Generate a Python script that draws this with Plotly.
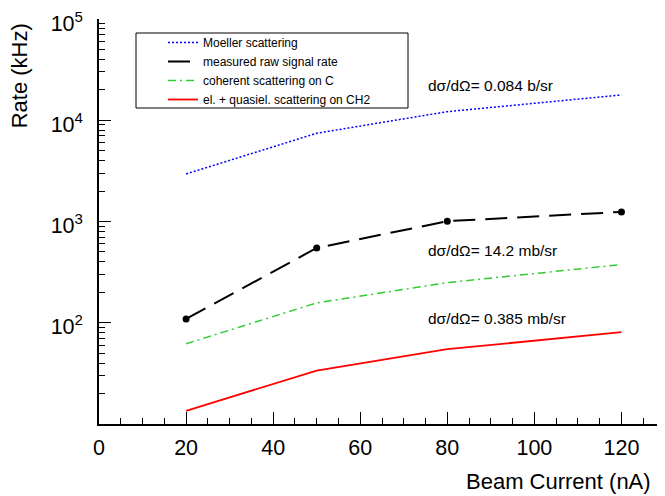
import plotly.graph_objects as go

beam_current = [20, 50, 80, 120]
moeller = [2950, 7440, 12160, 17780]
measured = [109, 548, 1007, 1244]
coherent = [62, 157, 249, 376]
elastic_ch2 = [13.5, 33.7, 54.8, 80.8]

series_names = ["Moeller scattering", "measured raw signal rate",
                "coherent scattering on C", "el. + quasiel. scattering on CH2"]
annot_texts = ["dσ/dΩ= 0.084 b/sr", "dσ/dΩ= 14.2 mb/sr", "dσ/dΩ= 0.385 mb/sr"]
annot_x = [75.2, 75.2, 75.2]
annot_logy = [4.348, 2.71, 2.039]

y_tickvals = [10, 100, 1000, 10000, 100000]
y_ticktext = ["", "10<sup>2</sup>", "10<sup>3</sup>", "10<sup>4</sup>", "10<sup>5</sup>"]

FONT = "Liberation Sans, Arial, sans-serif"

fig = go.Figure()
fig.add_trace(go.Scatter(x=beam_current, y=moeller, mode="lines", name=series_names[0],
                         line=dict(color="#0000ff", dash="2px,2px", width=1.5)))
fig.add_trace(go.Scatter(x=beam_current, y=measured, mode="lines", name=series_names[1],
                         line=dict(color="black", dash="22px,10px", width=2)))
fig.add_trace(go.Scatter(x=beam_current, y=measured, mode="markers", showlegend=False,
                         marker=dict(color="black", size=7, symbol="circle")))
fig.add_trace(go.Scatter(x=beam_current, y=coherent, mode="lines", name=series_names[2],
                         line=dict(color="#33cc33", dash="8px,4px,2px,4px", width=1.5)))
fig.add_trace(go.Scatter(x=beam_current, y=elastic_ch2, mode="lines", name=series_names[3],
                         line=dict(color="#ff0000", width=1.8)))

for t, x, y in zip(annot_texts, annot_x, annot_logy):
    fig.add_annotation(x=x, y=y, xref="x", yref="y", text=t, showarrow=False,
                       xanchor="left", yanchor="middle", font=dict(size=15.5, color="black", family=FONT))

fig.add_annotation(x=(19 - 99) / 566, y=0.993, xref="paper", yref="paper", text="Rate (kHz)",
                   textangle=-90, showarrow=False, xanchor="center", yanchor="top",
                   font=dict(size=22, color="black", family=FONT))
fig.add_annotation(x=0.979, y=-0.141, xref="paper", yref="paper", text="Beam Current (nA)",
                   showarrow=False, xanchor="right", yanchor="middle",
                   font=dict(size=22, color="black", family=FONT))

# legend frame
fig.add_shape(type="rect", xref="paper", yref="paper",
              x0=(136 - 99) / 566, x1=(408 - 99) / 566,
              y0=(424 - 108) / 405, y1=(424 - 33) / 405,
              line=dict(color="black", width=1), fillcolor="white", layer="above")

fig.update_layout(
    width=657, height=488,
    margin=dict(l=91, r=0, t=11, b=72, autoexpand=False),
    paper_bgcolor="white", plot_bgcolor="white",
    font=dict(family=FONT, color="black"),
    showlegend=True,
    legend=dict(x=(163 - 99) / 566, y=(424 - 28) / 405, xanchor="left", yanchor="top",
                borderwidth=0, bgcolor="rgba(0,0,0,0)",
                font=dict(size=12, family=FONT, color="black"),
                tracegroupgap=0),
    xaxis=dict(range=[0, 130], showgrid=False, zeroline=False, showline=True, automargin=False,
               linecolor="black", linewidth=1.5, ticks="inside", ticklen=12,
               tickcolor="black", dtick=20, tick0=0, ticklabeloverflow="allow",
               ticklabelstandoff=3,
               tickfont=dict(size=21.5, family=FONT, color="black"),
               minor=dict(ticks="inside", ticklen=6, dtick=5, tickcolor="black", showgrid=False)),
    yaxis=dict(type="log", range=[1, 5], showgrid=False, zeroline=False, showline=True, automargin=False,
               linecolor="black", linewidth=1.5, ticks="inside", ticklen=12,
               tickcolor="black", tickvals=y_tickvals, ticktext=y_ticktext, ticklabelstandoff=10,
               ticklabelshift=4, ticklabeloverflow="allow",
               tickfont=dict(size=21.5, family=FONT, color="black"),
               minor=dict(ticks="inside", ticklen=6, dtick="D1", tickcolor="black", showgrid=False)),
)

fig.write_html("out.html")
